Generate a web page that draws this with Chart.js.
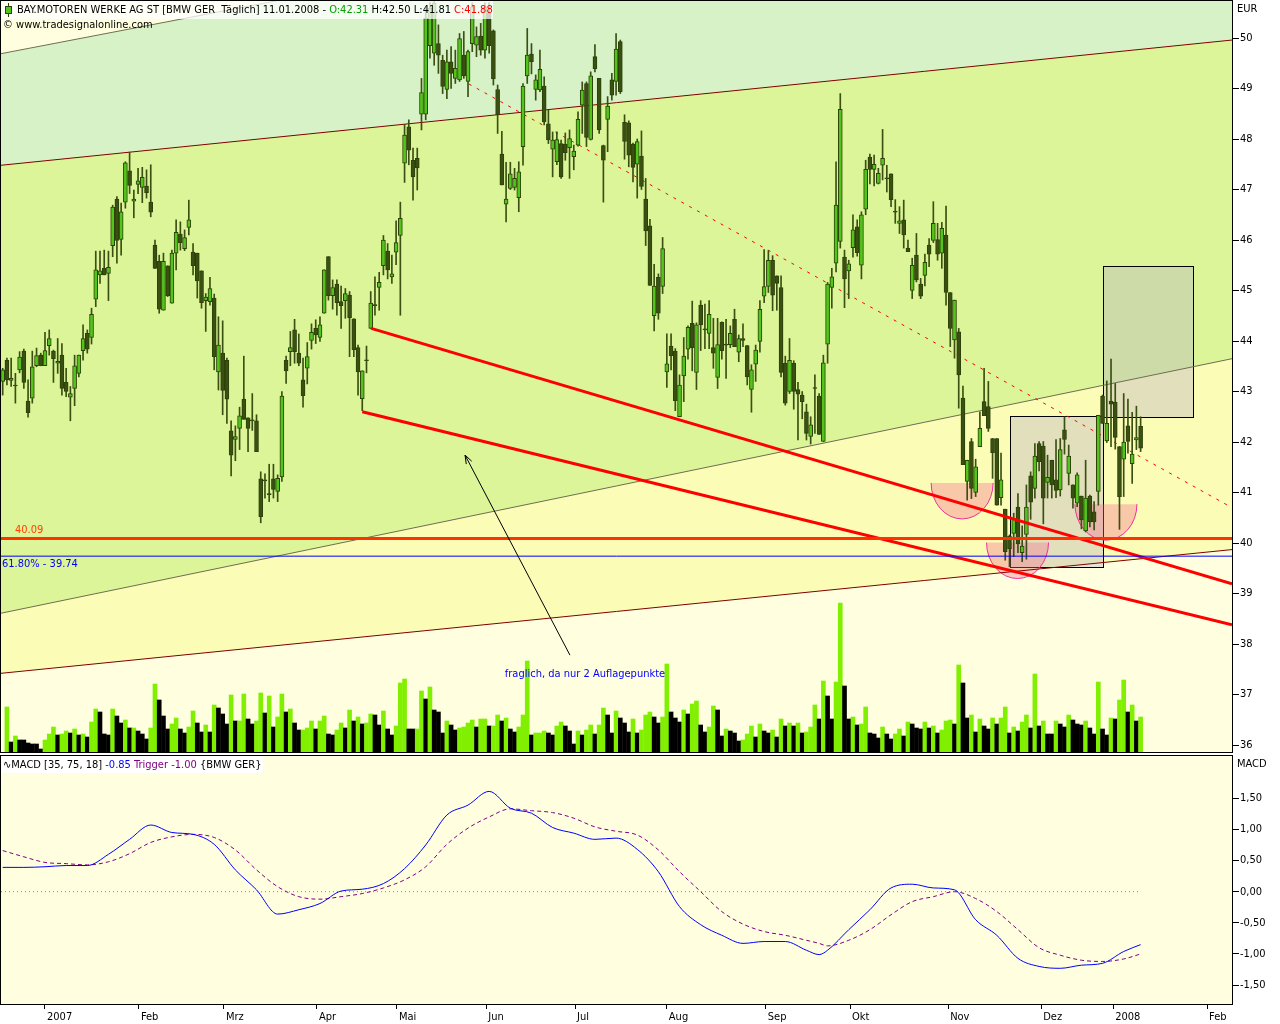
<!DOCTYPE html>
<html>
<head>
<meta charset="utf-8">
<script src="https://cdn.jsdelivr.net/npm/chart.js@4.4.1/dist/chart.umd.min.js"></script>
<style>
  body { margin: 0; background: #fff; }
  #wrap { position: relative; width: 1280px; height: 1024px; }
  #price { position: absolute; left: 0; top: 0; }
  #macd { position: absolute; left: 0; top: 754px; }
</style>
</head>
<body>
<div id="wrap">
  <canvas id="price" width="1280" height="754"></canvas>
  <canvas id="macd" width="1280" height="270"></canvas>
</div>
<script>
// BMW daily, Dez 2006 - 11.01.2008; x = trading day, 0 = 02.01.2007
const FIRST_DAY = -10

const open = [
  43.20, 43.62, 43.22, 43.11, 43.43, 43.80, 42.81, 42.87, 43.51, 43.72,
  43.51, 43.91, 43.80, 43.56, 43.72, 43.18, 42.89, 43.06, 43.36, 43.81,
  44.15, 44.07, 44.83, 45.31, 45.44, 45.34, 45.89, 46.81, 46.01, 46.75,
  47.37, 46.77, 47.10, 47.04, 47.07, 46.75, 45.90, 45.58, 44.61, 45.49,
  44.75, 45.74, 46.12, 45.83, 46.25, 45.76, 45.74, 45.39, 44.80, 44.78,
  44.85, 43.39, 43.76, 43.62, 42.22, 42.05, 42.27, 42.85, 42.48, 42.42,
  42.42, 41.27, 41.23, 40.96, 41.27, 41.02, 41.31, 43.62, 43.79, 44.22,
  43.76, 43.23, 43.46, 44.01, 44.25, 44.07, 44.55, 45.67, 44.90, 45.13,
  44.78, 44.80, 44.91, 44.44, 43.87, 42.86, 43.61, 44.25, 44.70, 45.06,
  45.49, 45.78, 45.27, 45.76, 46.09, 47.52, 48.24, 47.58, 47.62, 48.49,
  48.49, 49.85, 49.70, 49.89, 49.56, 48.98, 49.53, 49.20, 49.17, 49.66,
  49.14, 49.89, 49.86, 50.04, 49.76, 50.49, 50.14, 48.98, 47.70, 46.71,
  47.02, 47.04, 46.84, 47.85, 49.25, 49.68, 48.98, 48.97, 49.05, 48.30,
  47.80, 47.55, 47.91, 47.90, 47.83, 47.65, 47.88, 48.67, 49.10, 47.99,
  49.63, 49.20, 47.87, 48.39, 49.17, 49.14, 49.93, 48.33, 48.32, 47.90,
  47.50, 47.66, 46.81, 46.28, 44.50, 45.26, 45.08, 43.39, 43.90, 43.80,
  42.50, 43.31, 43.84, 44.35, 43.38, 44.71, 44.22, 44.15, 43.87, 43.28,
  44.37, 43.92, 43.93, 44.43, 43.78, 44.05, 43.91, 43.04, 43.54, 43.99,
  44.89, 45.08, 45.60, 45.29, 45.06, 43.56, 43.00, 43.56, 43.04, 42.93,
  42.60, 42.11, 43.06, 42.91, 42.01, 43.94, 45.06, 45.54, 45.97, 45.66,
  45.39, 45.85, 46.26, 45.50, 46.61, 47.64, 47.40, 47.12, 47.48, 47.21,
  47.31, 46.55, 46.33, 46.40, 45.84, 45.00, 45.70, 45.13, 45.30, 45.90,
  45.99, 46.01, 45.74, 46.10, 44.96, 44.02, 44.18, 42.87, 41.22, 42.01,
  41.00, 41.91, 42.80, 42.70, 42.07, 42.07, 40.90, 40.67, 40.14, 40.19,
  40.71, 39.81, 40.17, 41.33, 41.08, 41.97, 41.92, 41.20, 41.64, 41.25,
  41.05, 42.24, 41.38, 41.15, 40.79, 40.93, 40.24, 40.93, 40.62, 41.02,
  42.91, 42.02, 42.81, 42.79, 41.91, 41.66, 42.32, 41.57, 42.04, 42.31
]
const high = [
  43.46, 43.66, 43.66, 43.36, 43.79, 43.84, 43.23, 43.80, 43.86, 43.76,
  44.17, 44.22, 43.82, 44.05, 43.95, 43.46, 43.10, 43.72, 43.72, 44.32,
  44.22, 44.65, 45.78, 45.78, 45.80, 45.78, 46.69, 46.86, 46.73, 47.55,
  47.74, 46.99, 47.42, 47.44, 47.39, 47.49, 46.00, 45.70, 45.74, 45.49,
  45.80, 46.40, 46.36, 46.20, 46.79, 45.93, 45.74, 45.39, 44.94, 45.26,
  44.93, 44.48, 44.40, 43.66, 42.42, 42.32, 42.69, 43.70, 42.48, 42.96,
  42.54, 41.41, 41.37, 41.56, 41.56, 41.35, 43.00, 43.70, 44.19, 44.43,
  44.14, 43.66, 43.97, 44.34, 44.42, 44.48, 45.41, 45.67, 45.21, 45.21,
  45.09, 45.04, 44.98, 44.44, 43.92, 43.41, 43.90, 44.98, 45.27, 45.36,
  46.09, 45.93, 45.70, 46.38, 46.75, 48.29, 48.38, 47.82, 47.82, 49.20,
  50.60, 50.70, 50.75, 50.26, 49.66, 49.76, 49.83, 49.76, 50.09, 50.13,
  49.76, 50.70, 50.22, 50.29, 50.70, 50.70, 50.16, 49.07, 48.15, 47.54,
  47.54, 47.42, 47.55, 49.10, 50.19, 49.89, 49.27, 49.76, 49.23, 48.57,
  48.14, 48.14, 47.98, 48.12, 48.18, 47.88, 48.54, 49.13, 49.13, 49.33,
  49.87, 49.20, 47.88, 48.84, 49.30, 50.09, 49.96, 48.48, 48.36, 47.92,
  48.00, 48.16, 47.22, 46.41, 45.52, 45.33, 46.05, 44.14, 44.14, 43.85,
  43.33, 44.07, 44.30, 44.79, 44.36, 44.80, 44.73, 44.80, 44.45, 44.45,
  44.38, 44.43, 44.30, 44.63, 44.12, 44.34, 43.91, 43.53, 43.92, 44.80,
  45.81, 45.79, 45.69, 45.29, 45.29, 43.70, 44.05, 43.61, 43.18, 43.00,
  42.75, 42.50, 43.33, 42.96, 43.72, 45.16, 45.44, 47.55, 48.90, 45.80,
  45.60, 46.50, 46.40, 46.56, 47.58, 47.70, 47.68, 47.42, 48.19, 47.48,
  47.31, 46.80, 46.66, 46.79, 46.00, 45.64, 46.13, 45.24, 45.72, 46.03,
  46.76, 46.33, 46.35, 46.67, 44.96, 44.81, 44.25, 43.11, 41.64, 42.07,
  41.66, 42.60, 43.46, 43.20, 42.07, 42.07, 41.78, 40.67, 40.16, 40.59,
  40.98, 40.34, 41.15, 41.41, 41.97, 42.01, 42.01, 41.74, 41.64, 42.05,
  42.07, 42.50, 41.94, 41.15, 41.39, 40.93, 41.64, 40.95, 40.82, 42.53,
  42.93, 43.21, 43.64, 43.16, 41.91, 42.96, 42.85, 42.59, 42.71, 42.50
]
const low = [
  42.93, 43.13, 43.10, 42.77, 43.37, 43.06, 42.49, 42.77, 43.49, 43.51,
  43.51, 43.72, 43.18, 43.36, 42.93, 42.90, 42.42, 42.72, 43.29, 43.62,
  43.76, 43.94, 44.68, 45.14, 45.31, 44.80, 45.67, 45.54, 45.70, 46.63,
  46.92, 46.44, 46.92, 46.74, 46.83, 46.46, 45.44, 44.55, 44.61, 44.88,
  44.75, 45.41, 45.80, 45.79, 46.10, 45.31, 44.85, 44.65, 44.19, 44.71,
  43.43, 43.03, 42.54, 42.37, 41.33, 41.63, 41.85, 42.45, 41.81, 42.23,
  41.81, 40.40, 40.89, 40.82, 40.89, 40.82, 41.22, 43.16, 43.51, 43.56,
  43.51, 42.69, 43.15, 43.84, 43.95, 43.99, 44.55, 44.81, 44.63, 44.51,
  44.25, 44.45, 43.69, 43.69, 42.93, 42.62, 43.37, 44.25, 44.51, 44.61,
  45.31, 45.23, 45.14, 45.51, 44.51, 47.14, 47.49, 46.79, 46.99, 48.18,
  48.38, 49.60, 49.46, 49.30, 48.90, 48.80, 49.00, 49.10, 49.14, 49.20,
  48.84, 49.73, 49.63, 49.66, 49.60, 49.70, 49.07, 48.11, 47.09, 46.36,
  47.00, 46.99, 46.56, 47.48, 49.10, 49.29, 48.77, 48.94, 48.28, 47.91,
  47.25, 47.49, 47.22, 47.58, 47.22, 47.39, 47.86, 48.11, 47.85, 47.98,
  49.33, 48.11, 46.75, 47.75, 48.77, 48.87, 48.90, 47.60, 47.45, 47.15,
  46.83, 47.00, 45.89, 45.10, 44.20, 44.43, 44.94, 43.08, 43.43, 42.62,
  42.50, 42.80, 43.64, 43.41, 43.04, 43.81, 43.85, 43.85, 43.46, 43.06,
  43.64, 43.26, 43.87, 43.89, 43.59, 43.89, 43.13, 42.59, 43.20, 43.78,
  44.76, 44.96, 44.60, 44.61, 43.29, 42.73, 42.96, 42.65, 42.04, 42.46,
  42.04, 41.96, 42.17, 42.15, 42.01, 43.56, 44.65, 45.37, 45.84, 44.66,
  44.84, 45.66, 45.68, 45.23, 46.50, 47.11, 47.07, 47.11, 47.19, 46.95,
  46.66, 46.33, 46.13, 45.84, 45.77, 44.84, 45.17, 44.84, 45.09, 45.47,
  45.95, 45.60, 45.44, 44.71, 43.89, 43.66, 42.67, 41.55, 40.85, 40.88,
  40.92, 41.91, 42.52, 42.21, 41.28, 40.75, 40.75, 39.66, 39.53, 39.73,
  39.81, 39.63, 39.68, 40.47, 40.89, 41.43, 40.38, 40.89, 40.89, 40.90,
  40.93, 41.76, 41.15, 40.69, 40.72, 40.28, 40.22, 40.32, 40.26, 40.75,
  42.37, 41.99, 41.91, 41.86, 40.27, 40.92, 41.78, 41.18, 41.85, 41.81
]
const close = [
  43.43, 43.23, 43.26, 43.11, 43.68, 43.18, 42.58, 43.49, 43.71, 43.51,
  43.81, 44.05, 43.65, 43.60, 43.06, 43.00, 42.96, 43.51, 43.72, 44.05,
  43.84, 44.53, 45.41, 45.39, 45.31, 45.46, 46.65, 45.99, 46.56, 47.53,
  47.08, 46.81, 47.17, 47.24, 46.94, 46.55, 45.44, 44.63, 45.58, 44.90,
  45.74, 46.15, 45.95, 46.05, 46.40, 45.49, 45.19, 44.76, 44.87, 45.04,
  43.69, 43.92, 43.02, 42.85, 41.74, 42.11, 42.52, 42.45, 42.27, 42.42,
  41.81, 40.52, 41.23, 40.96, 41.06, 41.28, 42.91, 43.41, 43.87, 43.79,
  43.56, 42.92, 43.69, 44.17, 44.12, 44.32, 45.41, 44.90, 45.06, 44.76,
  44.70, 44.94, 44.46, 43.83, 43.39, 43.41, 43.61, 44.75, 44.70, 45.16,
  46.00, 45.41, 45.33, 45.95, 46.43, 48.08, 47.78, 47.25, 47.43, 48.92,
  50.39, 50.59, 50.69, 49.66, 49.04, 49.53, 49.30, 49.40, 49.99, 49.25,
  49.73, 50.62, 50.03, 49.76, 50.62, 49.85, 49.19, 48.48, 47.09, 46.81,
  47.31, 47.22, 47.35, 49.05, 49.66, 49.53, 49.17, 49.38, 48.34, 47.98,
  47.98, 47.99, 47.25, 47.73, 48.01, 47.76, 48.39, 48.97, 48.03, 49.25,
  49.39, 48.18, 47.58, 48.65, 48.87, 49.78, 48.94, 47.95, 47.68, 47.44,
  47.95, 47.06, 46.18, 45.10, 45.09, 44.55, 45.83, 43.55, 43.71, 42.82,
  43.13, 43.70, 44.27, 43.87, 44.32, 44.32, 44.22, 44.53, 43.76, 43.93,
  43.81, 43.92, 44.15, 43.89, 44.05, 44.01, 43.29, 43.43, 43.82, 44.63,
  45.08, 45.60, 44.91, 45.14, 43.38, 42.77, 43.62, 43.00, 42.95, 42.80,
  42.17, 42.34, 43.06, 42.15, 43.57, 45.13, 45.27, 46.69, 48.59, 45.23,
  45.53, 46.20, 45.75, 46.50, 47.40, 47.40, 47.50, 47.32, 47.62, 47.21,
  46.80, 46.55, 46.38, 46.10, 45.77, 45.50, 45.21, 44.89, 45.56, 45.72,
  46.33, 45.72, 46.23, 44.96, 44.25, 44.81, 43.33, 41.55, 41.64, 41.08,
  41.51, 42.27, 42.52, 42.27, 41.79, 40.75, 41.25, 39.83, 39.89, 40.47,
  39.98, 39.94, 40.71, 40.81, 41.72, 41.61, 40.89, 41.30, 41.15, 41.04,
  41.85, 42.05, 41.72, 40.89, 41.35, 40.46, 40.89, 40.42, 40.42, 42.53,
  42.37, 42.37, 42.75, 42.09, 40.92, 42.00, 42.01, 41.76, 42.09, 41.88
]
// volume, x 100.000 Stueck
const volume = [
  null, 45, 10, 16, 12, 12, 9, 8, 8, 3,
  12, 18, 25, 17, 18, 21, 19, 23, 17, 18,
  15, 30, 43, 40, 18, 17, 43, 36, 29, 32,
  24, 24, 21, 18, 13, 24, 68, 52, 36, 23,
  28, 34, 23, 19, 25, 41, 29, 20, 27, 20,
  47, 44, 38, 28, 57, 31, 31, 58, 33, 28,
  31, 59, 39, 56, 25, 35, 58, 40, 43, 29,
  22, 22, 24, 31, 23, 31, 36, 18, 17, 22,
  29, 24, 42, 31, 35, 28, 29, 38, 37, 27,
  41, 23, 17, 26, 69, 73, 23, 23, 23, 61,
  53, 65, 42, 40, 19, 31, 27, 22, 24, 25,
  29, 32, 25, 33, 33, 26, 26, 37, 31, 34,
  23, 20, 25, 37, 91, 17, 19, 19, 21, 19,
  17, 26, 30, 26, 21, 8, 21, 17, 22, 27,
  18, 27, 44, 37, 19, 41, 34, 29, 20, 33,
  19, 22, 37, 40, 35, 29, 35, 88, 40, 34,
  30, 42, 38, 48, 51, 27, 20, 25, 46, 42,
  16, 23, 21, 19, 11, 12, 18, 26, 15, 28,
  21, 19, 22, 15, 33, 26, 29, 26, 29, 19,
  20, 25, 47, 33, 71, 56, 33, 70, 149, 66,
  33, 35, 27, 28, 45, 19, 18, 14, 25, 18,
  13, 18, 23, 16, 30, 28, 24, 23, 30, 24,
  26, 19, 22, 31, 32, 28, 87, 69, 34, 37,
  20, 33, 26, 23, 34, 28, 34, 45, 19, 25,
  21, 30, 37, 24, 78, 26, 31, 18, 18, 31,
  28, 25, 37, 32, 28, 27, 31, 24, 18, 70,
  23, 17, 34, 33, 52, 72, 40, 47, 31, 35
]
const volUp = [
  0, 1, 0, 1, 0, 0, 0, 0, 0, 0,
  1, 1, 1, 0, 1, 1, 0, 1, 0, 1,
  0, 1, 1, 0, 0, 0, 1, 0, 0, 1,
  0, 1, 0, 0, 0, 1, 1, 0, 0, 0,
  1, 1, 0, 0, 1, 1, 0, 0, 1, 0,
  1, 0, 0, 0, 1, 0, 1, 1, 0, 0,
  1, 1, 0, 1, 0, 1, 1, 0, 1, 0,
  0, 1, 1, 1, 0, 1, 1, 0, 0, 1,
  1, 0, 1, 0, 1, 0, 1, 1, 0, 0,
  1, 0, 0, 1, 1, 1, 0, 0, 1, 1,
  0, 1, 0, 0, 0, 1, 0, 0, 1, 1,
  1, 1, 0, 1, 1, 0, 1, 1, 0, 1,
  0, 0, 1, 1, 1, 0, 1, 1, 1, 0,
  0, 1, 1, 0, 0, 0, 1, 0, 1, 1,
  0, 1, 1, 0, 0, 1, 0, 0, 0, 1,
  0, 1, 1, 1, 0, 0, 1, 1, 0, 0,
  0, 1, 0, 1, 1, 0, 0, 1, 1, 0,
  0, 1, 0, 0, 0, 1, 1, 1, 0, 1,
  0, 0, 1, 0, 1, 0, 1, 0, 1, 0,
  1, 1, 1, 0, 1, 0, 0, 1, 1, 0,
  0, 1, 0, 1, 1, 0, 0, 0, 1, 0,
  0, 1, 1, 0, 1, 0, 0, 0, 1, 0,
  1, 0, 1, 1, 1, 0, 1, 0, 0, 1,
  0, 1, 0, 0, 1, 0, 1, 1, 0, 1,
  0, 1, 1, 0, 1, 0, 1, 0, 0, 1,
  0, 0, 1, 0, 0, 0, 1, 0, 0, 1,
  0, 0, 1, 0, 1, 1, 0, 1, 0, 1
]

// MACD [35, 75, 18], read every 5 days
const macdDays = [-10, -5, 0, 5, 10, 15, 20, 25, 30, 35, 40, 45, 50, 55, 60, 65, 70, 75, 80, 85,
  90, 95, 100, 105, 110, 115, 120, 125, 130, 135, 140, 145, 150, 155, 160, 165, 170, 175, 180, 183,
  185, 190, 195, 200, 205, 210, 215, 220, 225, 230, 235, 240, 245, 250, 255, 259]
const macdLine = [0.39, 0.39, 0.40, 0.42, 0.42, 0.60, 0.84, 1.07, 0.95, 0.92, 0.76, 0.35, 0.03, -0.36, -0.29, -0.19, 0.01, 0.04, 0.13, 0.37,
  0.75, 1.23, 1.39, 1.61, 1.34, 1.26, 1.03, 0.94, 0.84, 0.86, 0.68, 0.32, -0.24, -0.53, -0.70, -0.83, -0.80, -0.80, -0.94, -1.01,
  -0.94, -0.61, -0.29, 0.06, 0.12, 0.06, 0.03, -0.45, -0.70, -1.07, -1.20, -1.23, -1.18, -1.15, -0.96, -0.85]
const triggerLine = [0.66, 0.56, 0.47, 0.45, 0.43, 0.48, 0.61, 0.79, 0.88, 0.92, 0.87, 0.67, 0.35, 0.08, -0.08, -0.12, -0.08, -0.03, 0.06, 0.19,
  0.40, 0.76, 1.02, 1.20, 1.33, 1.30, 1.27, 1.18, 1.04, 0.97, 0.91, 0.67, 0.32, 0.00, -0.32, -0.52, -0.64, -0.70, -0.78, -0.83,
  -0.87, -0.78, -0.61, -0.37, -0.16, -0.08, 0.00, -0.11, -0.32, -0.61, -0.90, -1.02, -1.10, -1.12, -1.08, -1.00]

const priceTicks = [36, 37, 38, 39, 40, 41, 42, 43, 44, 45, 46, 47, 48, 49, 50]
const macdTicks = [-1.5, -1, -0.5, 0, 0.5, 1, 1.5]
const monthTicks = [0, 22.2, 42.3, 64.3, 83.2, 104.3, 125.3, 147.0, 170.4, 190.3, 213.5, 235.5, 252.5, 274.7]
const monthLabels = ['2007', 'Feb', 'Mrz', 'Apr', 'Mai', 'Jun', 'Jul', 'Aug', 'Sep', 'Okt', 'Nov', 'Dez', '2008', 'Feb']

// drawings: [day, price]
const channelTop = [[-10.4, 49.69], [280.6, 54.37]]
const channelUpper = [[-10.4, 47.48], [280.6, 49.96]]
const channelMid = [[-10.4, 38.61], [280.6, 43.65]]
const channelLower = [[-10.4, 37.42], [280.6, 39.87]]
const trendUpper = [[77.1, 44.25], [280.6, 39.19]]
const trendLower = [[75.0, 42.60], [280.6, 38.38]]
const trendDashed = [[100.2, 49.09], [280.6, 40.70]]
const support = 40.09
const fibLevel = 39.74
const boxes = [[228.2, 42.51, 250.2, 39.52], [250.2, 45.48, 271.3, 42.49]]
const bowls = [[216.8, 41.19], [229.9, 40.01], [250.8, 40.77]]
const arrowFrom = [124.1, 37.78]
const arrowTo = [99.3, 41.74]
const noteAt = [108.7, 37.41]
const noteText = 'fraglich, da nur 2 Auflagepunkte'

const X_MIN = -10.4
const X_MAX = 280.6
const FONT = '"DejaVu Sans Condensed", "DejaVu Sans", sans-serif'
const UP = '#52c41c'
const DOWN = '#3a5012'
const EDGE = '#2c4208'

Chart.defaults.font.family = FONT
Chart.defaults.font.size = 11
Chart.defaults.color = '#000'

const days = open.map((v, k) => FIRST_DAY + k)
const last = open.length - 1
const pts = arr => arr.map(p => ({x: p[0], y: p[1]}))

function segText(ctx, x, y, segs){
    ctx.textAlign = 'left'
    ctx.textBaseline = 'middle'
    segs.forEach(s => {
        ctx.fillStyle = s[1]
        ctx.fillText(s[0], x, y)
        x += ctx.measureText(s[0]).width
    })
}

function lineSet(data, color, width, order, extra){
    return Object.assign({
        type: 'line',
        data: pts(data),
        borderColor: color,
        borderWidth: width,
        pointRadius: 0,
        fill: false,
        order: order
    }, extra || {})
}

// keep the plot area fixed: no label overhang padding
function fixY(s){
    s.width = 48
    s.paddingTop = 0
    s.paddingBottom = 0
}

const priceDecor = {
    id: 'priceDecor',
    beforeDraw(chart){
        const {ctx, chartArea: a} = chart
        ctx.save()
        ctx.fillStyle = '#ffffe0'
        ctx.fillRect(a.left, a.top, a.right - a.left, a.bottom - a.top)
        ctx.restore()
    },
    beforeDatasetsDraw(chart){
        const {ctx, chartArea: a} = chart
        const x = chart.scales.x, y = chart.scales.y
        ctx.save()
        ctx.beginPath()
        ctx.rect(a.left, a.top, a.right - a.left, a.bottom - a.top)
        ctx.clip()
        boxes.forEach(b => {
            let x0 = Math.round(x.getPixelForValue(b[0])) + 0.5
            let x1 = Math.round(x.getPixelForValue(b[2])) + 0.5
            let y0 = Math.round(y.getPixelForValue(b[1])) + 0.5
            let y1 = Math.round(y.getPixelForValue(b[3])) + 0.5
            ctx.fillStyle = 'rgba(170,158,205,0.3)'
            ctx.fillRect(x0, y0, x1 - x0, y1 - y0)
            ctx.strokeStyle = '#000'
            ctx.lineWidth = 1
            ctx.strokeRect(x0, y0, x1 - x0, y1 - y0)
        })
        bowls.forEach(c => {
            let cx = x.getPixelForValue(c[0]), cy = y.getPixelForValue(c[1])
            ctx.beginPath()
            ctx.ellipse(cx, cy, 31, 36, 0, 0, Math.PI)
            ctx.closePath()
            ctx.fillStyle = 'rgba(243,103,144,0.35)'
            ctx.fill()
            ctx.beginPath()
            ctx.ellipse(cx, cy, 31, 36, 0, 0, Math.PI)
            ctx.strokeStyle = '#f0309a'
            ctx.lineWidth = 1
            ctx.stroke()
        })
        ctx.restore()
    },
    afterDatasetsDraw(chart){
        const {ctx, chartArea: a} = chart
        const x = chart.scales.x, y = chart.scales.y
        ctx.save()
        ctx.font = '11px ' + FONT

        // arrow + note
        let tx = x.getPixelForValue(arrowFrom[0]), ty = y.getPixelForValue(arrowFrom[1])
        let hx = x.getPixelForValue(arrowTo[0]), hy = y.getPixelForValue(arrowTo[1])
        let ang = Math.atan2(hy - ty, hx - tx)
        ctx.strokeStyle = '#000'
        ctx.lineWidth = 1
        ctx.beginPath()
        ctx.moveTo(tx, ty)
        ctx.lineTo(hx, hy)
        ctx.moveTo(hx - 9 * Math.cos(ang - 0.35), hy - 9 * Math.sin(ang - 0.35))
        ctx.lineTo(hx, hy)
        ctx.lineTo(hx - 9 * Math.cos(ang + 0.35), hy - 9 * Math.sin(ang + 0.35))
        ctx.stroke()
        segText(ctx, x.getPixelForValue(noteAt[0]), y.getPixelForValue(noteAt[1]), [[noteText, '#0000ff']])

        // level labels
        segText(ctx, a.left + 14, y.getPixelForValue(support) - 8, [[support.toFixed(2), '#ff4000']])
        segText(ctx, a.left + 1, y.getPixelForValue(fibLevel) + 8, [['61.80% - ' + fibLevel.toFixed(2), '#0000ff']])

        // header
        ctx.fillStyle = 'rgba(255,255,255,0.75)'
        ctx.fillRect(a.left, a.top, 492, 18)
        ctx.strokeStyle = EDGE
        ctx.beginPath()
        ctx.moveTo(8.5, 3)
        ctx.lineTo(8.5, 17)
        ctx.stroke()
        ctx.fillStyle = UP
        ctx.fillRect(5.5, 6.5, 6, 7)
        ctx.strokeRect(5.5, 6.5, 6, 7)
        segText(ctx, 17, 10, [
            ['BAY.MOTOREN WERKE AG ST [BMW GER  T\u00e4glich] 11.01.2008 - ', '#000'],
            ['O:' + open[last].toFixed(2), '#00a000'],
            [' H:' + high[last].toFixed(2) + ' L:' + low[last].toFixed(2) + ' ', '#000'],
            ['C:' + close[last].toFixed(2), '#ff0000']
        ])
        segText(ctx, 3, 25, [['\u00a9 www.tradesignalonline.com', '#000']])
        ctx.restore()
    },
    afterDraw(chart){
        const {ctx, chartArea: a} = chart
        ctx.save()
        ctx.strokeStyle = '#000'
        ctx.lineWidth = 1
        ctx.strokeRect(a.left - 0.5, a.top - 0.5, a.right - a.left + 1, a.bottom - a.top + 1)
        ctx.font = '11px ' + FONT
        segText(ctx, 1237, 9, [['EUR', '#000']])
        ctx.restore()
    }
}

new Chart(document.getElementById('price'), {
    type: 'bar',
    data: {
        datasets: [
            lineSet(channelTop, '#6e6e50', 1, 20),
            lineSet(channelUpper, '#800000', 1, 19, {fill: '-1', backgroundColor: '#d6f2c6'}),
            lineSet(channelMid, '#6e6e50', 1, 18, {fill: '-1', backgroundColor: '#dcf598'}),
            lineSet(channelLower, '#800000', 1, 17, {fill: '-1', backgroundColor: '#fbfcb5'}),
            lineSet(trendDashed, '#ff0000', 1, 16, {borderDash: [3, 6]}),
            {
                type: 'bar',
                yAxisID: 'yv',
                data: days.map((d, k) => ({x: d, y: volume[k]})),
                backgroundColor: c => volUp[c.dataIndex] ? '#80f000' : '#000',
                barThickness: 4,
                grouped: false,
                order: 15
            },
            {
                type: 'bar',
                data: days.map((d, k) => ({x: d, y: [low[k], high[k]]})),
                backgroundColor: DOWN,
                barThickness: 1,
                grouped: false,
                order: 12
            },
            {
                type: 'bar',
                data: days.map((d, k) => ({x: d, y: [open[k], close[k]]})),
                backgroundColor: c => close[c.dataIndex] > open[c.dataIndex] ? UP : DOWN,
                borderColor: EDGE,
                borderWidth: 1,
                borderSkipped: false,
                minBarLength: 1,
                barThickness: 4,
                grouped: false,
                order: 11
            },
            lineSet(trendUpper, '#ff0000', 3, 3),
            lineSet(trendLower, '#ff0000', 3, 3),
            lineSet([[X_MIN, support], [X_MAX, support]], '#ff3300', 3, 2),
            lineSet([[X_MIN, fibLevel], [X_MAX, fibLevel]], '#0000ff', 1, 2)
        ]
    },
    options: {
        responsive: false,
        animation: false,
        devicePixelRatio: 1,
        layout: {padding: {left: 1, right: 0, top: 1, bottom: 2}},
        plugins: {
            legend: {display: false},
            tooltip: {enabled: false},
            filler: {drawTime: 'beforeDatasetsDraw'}
        },
        scales: {
            x: {type: 'linear', min: X_MIN, max: X_MAX, offset: false, display: false},
            y: {
                position: 'right',
                min: 35.862,
                max: 50.733,
                afterFit: fixY,
                afterBuildTicks: s => { s.ticks = priceTicks.map(v => ({value: v})) },
                grid: {drawOnChartArea: false, tickLength: 7, color: '#000'},
                border: {color: '#000'},
                ticks: {padding: 1, color: '#000', font: {size: 11}}
            },
            yv: {display: false, min: 0, max: 751}
        }
    },
    plugins: [priceDecor]
})

const macdDecor = {
    id: 'macdDecor',
    beforeDraw(chart){
        const {ctx, chartArea: a} = chart
        ctx.save()
        ctx.fillStyle = '#ffffe0'
        ctx.fillRect(a.left, a.top, a.right - a.left, a.bottom - a.top)
        ctx.restore()
    },
    afterDraw(chart){
        const {ctx, chartArea: a} = chart
        ctx.save()
        ctx.font = '11px ' + FONT
        ctx.fillStyle = '#fff'
        ctx.fillRect(a.left, a.top, 262, 17)
        segText(ctx, 3, a.top + 9, [
            ['\u223fMACD [35, 75, 18] ', '#000'],
            [macdLine[macdLine.length - 1].toFixed(2), '#0000ff'],
            [' Trigger ' + triggerLine[triggerLine.length - 1].toFixed(2), '#800080'],
            [' {BMW GER}', '#000']
        ])
        segText(ctx, 1237, a.top + 8, [['MACD', '#000']])
        ctx.strokeStyle = '#000'
        ctx.lineWidth = 1
        ctx.strokeRect(a.left - 0.5, a.top - 0.5, a.right - a.left + 1, a.bottom - a.top + 1)
        ctx.restore()
    }
}

new Chart(document.getElementById('macd'), {
    type: 'line',
    data: {
        datasets: [
            lineSet([[X_MIN, 0], [days[last], 0]], '#8c8c6c', 1, 3, {borderDash: [1, 3]}),
            {
                data: macdDays.map((d, k) => ({x: d, y: triggerLine[k]})),
                borderColor: '#800080',
                borderDash: [4, 3],
                borderWidth: 1,
                pointRadius: 0,
                cubicInterpolationMode: 'monotone',
                order: 2
            },
            {
                data: macdDays.map((d, k) => ({x: d, y: macdLine[k]})),
                borderColor: '#0000ff',
                borderWidth: 1,
                pointRadius: 0,
                cubicInterpolationMode: 'monotone',
                order: 1
            }
        ]
    },
    options: {
        responsive: false,
        animation: false,
        devicePixelRatio: 1,
        layout: {padding: {left: 1, right: 0, top: 2, bottom: 0}},
        plugins: {legend: {display: false}, tooltip: {enabled: false}},
        scales: {
            x: {
                type: 'linear',
                min: X_MIN,
                max: X_MAX,
                afterFit: s => { s.height = 20; s.paddingLeft = 0; s.paddingRight = 0 },
                afterBuildTicks: s => { s.ticks = monthTicks.map(v => ({value: v})) },
                grid: {drawOnChartArea: false, tickLength: 5, color: '#000'},
                border: {color: '#000'},
                ticks: {
                    align: 'start',
                    labelOffset: 2,
                    padding: 2,
                    autoSkip: false,
                    maxRotation: 0,
                    color: '#000',
                    callback: (v, i) => monthLabels[i]
                }
            },
            y: {
                position: 'right',
                min: -1.803,
                max: 2.178,
                afterFit: fixY,
                afterBuildTicks: s => { s.ticks = macdTicks.map(v => ({value: v})) },
                grid: {drawOnChartArea: false, tickLength: 7, color: '#000'},
                border: {color: '#000'},
                ticks: {padding: 1, color: '#000', callback: v => v.toFixed(2).replace('.', ',')}
            }
        }
    },
    plugins: [macdDecor]
})
</script>
</body>
</html>
